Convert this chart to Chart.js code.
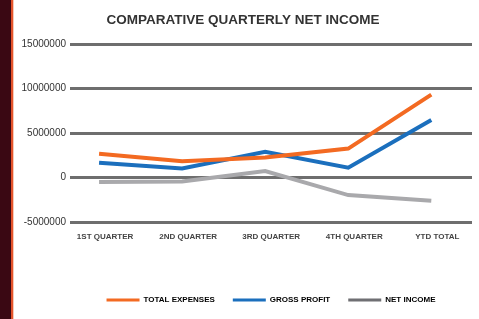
<!DOCTYPE html>
<html>
<head>
<meta charset="utf-8">
<script src="https://cdn.jsdelivr.net/npm/chart.js@4"></script>
<style>
    html, body { margin: 0; padding: 0; background: #fff; }
    .page { display: flex; width: 479px; height: 319px; overflow: hidden; }
    .strip { width: 11px; background: #3a0813; }
    .edge { width: 2px; background: #e4532a; border-right: 1px solid #f6c9b8; }
    .wrap { position: relative; width: 465px; height: 319px; }
</style>
</head>
<body>
<div class="page">
    <div class="strip"></div>
    <div class="edge"></div>
    <div class="wrap"><canvas id="chart"></canvas></div>
</div>
<script>
/* ================= DATA ================= */
const quarters = ["1ST QUARTER", "2ND QUARTER", "3RD QUARTER", "4TH QUARTER", "YTD TOTAL"];

const totalExpenses = [2670000, 1840000, 2260000, 3260000, 9330000];
const grossProfit   = [1670000, 1030000, 2890000, 1110000, 6480000];
const netIncome     = [-490000, -450000, 730000, -1970000, -2600000];

const yTicks = [-5000000, 0, 5000000, 10000000, 15000000];

/* ================= HELPERS ================= */
const toPoints = arr => arr.map((v, i) => ({ x: i, y: v }));

const series = [
    { label: "TOTAL EXPENSES", data: totalExpenses, color: "#f36a22", legend: "#f36a22" },
    { label: "GROSS PROFIT",   data: grossProfit,   color: "#1b6fbd", legend: "#1b6fbd" },
    { label: "NET INCOME",     data: netIncome,     color: "#a9a9ac", legend: "#6f6f73" }
];

/* ================= CHART ================= */
new Chart(document.getElementById("chart"), {
    type: "line",
    data: {
        datasets: series.map(s => ({
            label: s.label,
            data: toPoints(s.data),
            borderColor: s.color,
            backgroundColor: s.legend,
            borderWidth: 4,
            pointRadius: 0,
            tension: 0
        }))
    },
    options: {
        responsive: true,
        maintainAspectRatio: false,
        animation: false,
        layout: { padding: { left: 0, right: 7, top: 0, bottom: 5 } },
        plugins: {
            title: {
                display: true,
                text: "COMPARATIVE QUARTERLY NET INCOME",
                color: "#333",
                font: { family: "Liberation Sans", size: 13.5 },
                padding: { top: 12, bottom: 16 }
            },
            legend: {
                position: "bottom",
                fullSize: false,
                labels: {
                    boxWidth: 33,
                    boxHeight: 3,
                    padding: 18,
                    color: "#444",
                    font: { family: "Liberation Sans", size: 8, weight: "bold" },
                    generateLabels: chart => chart.data.datasets.map((ds, i) => ({
                        text: ds.label,
                        fillStyle: series[i].legend,
                        strokeStyle: series[i].legend,
                        lineWidth: 0,
                        datasetIndex: i
                    }))
                }
            },
            tooltip: { enabled: false }
        },
        scales: {
            x: {
                type: "linear",
                min: -0.35,
                max: 4.49,
                afterFit: s => { s.height = 56; },
                grid: { display: false },
                border: { display: false },
                ticks: {
                    stepSize: 1,
                    includeBounds: false,
                    maxRotation: 0,
                    autoSkip: false,
                    padding: 2,
                    labelOffset: 6,
                    color: "#444",
                    font: { family: "Liberation Sans", size: 8, weight: "bold" },
                    callback: v => quarters[v] ?? ""
                }
            },
            y: {
                min: yTicks[0],
                max: yTicks[yTicks.length - 1],
                afterFit: s => { s.width = 56; },
                afterBuildTicks: s => { s.ticks = yTicks.map(v => ({ value: v })); },
                grid: { color: "#6e6e6e", lineWidth: 3, drawTicks: false },
                border: { display: false },
                ticks: {
                    padding: 4,
                    color: "#333",
                    font: { family: "Liberation Sans", size: 10 },
                    callback: v => String(v)
                }
            }
        }
    }
});
</script>
</body>
</html>
